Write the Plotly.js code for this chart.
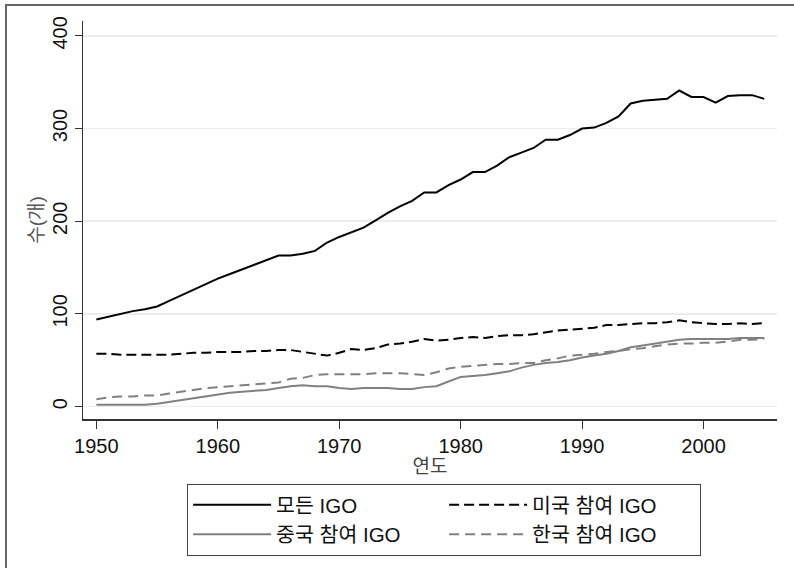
<!DOCTYPE html>
<html>
<head>
<meta charset="utf-8">
<script src="https://cdn.plot.ly/plotly-3.0.1.min.js"></script>
<style>
  html, body { margin: 0; padding: 0; background: #fff; }
  #frame { position: absolute; left: 5px; top: 4px; width: 800px; height: 600px; border-left: 2px solid #666; border-top: 2px solid #666; pointer-events: none; z-index: 5; }
  #chart { position: absolute; left: 0; top: 0; width: 794px; height: 568px; }
</style>
</head>
<body>
<div id="chart"></div>
<div id="frame"></div>
<script>
const years = [];
for (let y = 1950; y <= 2005; y++) years.push(y);

const allIGO = [94, 97, 100, 103, 105, 108, 114, 120, 126, 132,
  138, 143, 148, 153, 158, 163, 163, 165, 168, 177,
  183, 188, 193, 201, 209, 216, 222, 231, 231, 239,
  245, 253, 253, 260, 269, 274, 279, 288, 288, 293,
  300, 301, 306, 313, 327, 330, 331, 332, 341, 334,
  334, 328, 335, 336, 336, 332];
const usIGO = [57, 57, 56, 56, 56, 56, 56, 57, 58, 58,
  59, 59, 59, 60, 60, 61, 61, 59, 57, 55,
  58, 62, 61, 63, 67, 68, 70, 73, 71, 72,
  74, 75, 74, 76, 77, 77, 78, 80, 82, 83,
  84, 85, 88, 88, 89, 90, 90, 91, 93, 91,
  90, 89, 89, 90, 89, 90];
const chinaIGO = [2, 2, 2, 2, 2, 3, 5, 7, 9, 11,
  13, 15, 16, 17, 18, 20, 22, 23, 22, 22,
  20, 19, 20, 20, 20, 19, 19, 21, 22, 27,
  32, 33, 34, 36, 38, 42, 45, 47, 48, 50,
  53, 55, 57, 60, 64, 66, 68, 70, 72, 73,
  73, 73, 73, 74, 74, 74];
const koreaIGO = [8, 10, 11, 11, 12, 12, 14, 16, 18, 20,
  21, 22, 23, 24, 25, 26, 30, 31, 34, 35,
  35, 35, 35, 36, 36, 36, 35, 34, 37, 41,
  43, 44, 45, 46, 46, 47, 47, 50, 52, 55,
  56, 57, 59, 60, 62, 63, 65, 67, 68, 68,
  69, 69, 70, 72, 72, 73];

const seriesNames = ['모든 IGO', '미국 참여 IGO', '중국 참여 IGO', '한국 참여 IGO'];
const xTicks = [1950, 1960, 1970, 1980, 1990, 2000];
const yTicks = [0, 100, 200, 300, 400];

const FONT = "'Liberation Sans', Arial, 'Noto Sans CJK KR', sans-serif";

const traces = [
  { x: years, y: allIGO, name: seriesNames[0], mode: 'lines', line: { color: '#000', width: 2 } },
  { x: years, y: usIGO, name: seriesNames[1], mode: 'lines', line: { color: '#000', width: 2, dash: '10px,5px' } },
  { x: years, y: chinaIGO, name: seriesNames[2], mode: 'lines', line: { color: '#808080', width: 2 } },
  { x: years, y: koreaIGO, name: seriesNames[3], mode: 'lines', line: { color: '#808080', width: 2, dash: '10px,6px' } }
];

const layout = {
  width: 794, height: 568,
  margin: { l: 83, r: 17, t: 21, b: 145 },
  paper_bgcolor: '#fff', plot_bgcolor: '#fff',
  font: { family: FONT, size: 20, color: '#111' },
  showlegend: true,
  xaxis: {
    range: [1948.9, 2006.05],
    tickvals: xTicks, ticktext: xTicks.map(String),
    ticks: 'outside', ticklen: 8, tickcolor: '#333', tickwidth: 1,
    showline: true, linecolor: '#333', linewidth: 1.5,
    showgrid: false, zeroline: false,
    tickfont: { family: FONT, size: 20, color: '#111' },
    title: { text: '연도', standoff: 2, font: { family: FONT, size: 19, color: '#444' } }
  },
  yaxis: {
    range: [-13.4, 416],
    tickvals: yTicks, ticktext: yTicks.map(String),
    tickangle: -90,
    ticks: 'outside', ticklen: 7, tickcolor: '#333', tickwidth: 1,
    showline: true, linecolor: '#333', linewidth: 1.5,
    showgrid: true, gridcolor: '#ececec', gridwidth: 1.5,
    zeroline: false,
    tickfont: { family: FONT, size: 20, color: '#111' },
    title: { text: '수(개)', standoff: 0, font: { family: FONT, size: 19, color: '#555' } }
  },
  legend: {
    orientation: 'h',
    x: 0.15, xanchor: 'left',
    y: -0.163, yanchor: 'top',
    entrywidth: 163, entrywidthmode: 'pixels',
    itemwidth: 78,
    bordercolor: '#444', borderwidth: 1, bgcolor: '#fff',
    font: { family: FONT, size: 20.5, color: '#111' },
    traceorder: 'normal'
  }
};

Plotly.newPlot('chart', traces, layout, { displayModeBar: false, staticPlot: true });
</script>
</body>
</html>
